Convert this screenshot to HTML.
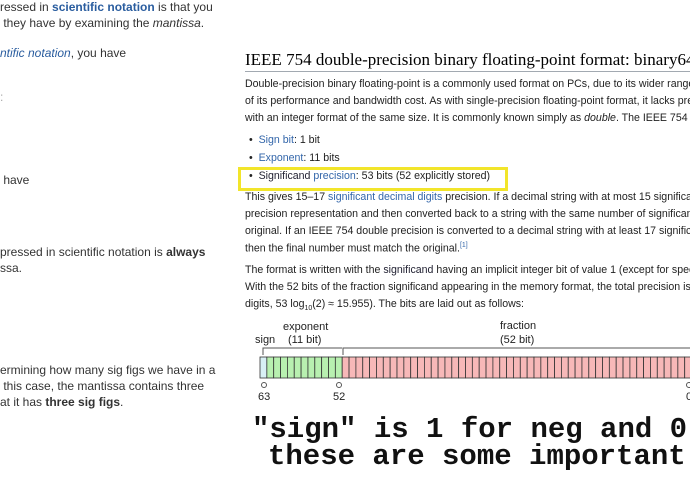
<!DOCTYPE html>
<html><head><meta charset="utf-8"><style>
html,body{margin:0;padding:0;background:#fff;width:690px;height:500px;overflow:hidden;position:relative}
#wrap{position:absolute;left:0;top:0;width:690px;height:500px;overflow:hidden}
.t{position:absolute;white-space:nowrap;font-family:"Liberation Sans",Arial,sans-serif}
.l{font-size:12px;color:#333}
.r{font-size:10.6px;color:#222}
a,.a{color:#2a5d9f;text-decoration:none}
.w{color:#3366aa}
</style></head><body><div id="wrap">
<div>
<div class="t l" style="left:0;top:0">ressed in <b class="a">scientific notation</b> is that you</div>
<div class="t l" style="left:0;top:16px">&nbsp;they have by examining the <i>mantissa</i>.</div>
<div class="t l" style="left:0;top:46px"><i class="a">ntific notation</i>, you have</div>
<div class="t l" style="left:0;top:90px;color:#aaa">:</div>
<div class="t l" style="left:0;top:173px">&nbsp;have</div>
<div class="t l" style="left:0;top:245px">pressed in scientific notation is <b>always</b></div>
<div class="t l" style="left:0;top:261px">ssa.</div>
<div class="t l" style="left:0;top:363px">ermining how many sig figs we have in a</div>
<div class="t l" style="left:0;top:379px">&nbsp;this case, the mantissa contains three</div>
<div class="t l" style="left:0;top:395px">at it has <b>three sig figs</b>.</div>
</div>
<div>
<div class="t" style="left:245px;top:50px;font-family:'Liberation Serif',serif;font-size:17px;color:#000">IEEE 754 double-precision binary floating-point format: binary64</div>
<div style="position:absolute;left:245px;top:71px;width:445px;height:1px;background:#a2a9b1"></div>
<div class="t r" style="left:245px;top:78px">Double-precision binary floating-point is a commonly used format on PCs, due to its wider range</div>
<div class="t r" style="left:245px;top:95px">of its performance and bandwidth cost. As with single-precision floating-point format, it lacks precision</div>
<div class="t r" style="left:245px;top:112px">with an integer format of the same size. It is commonly known simply as <i>double</i>. The IEEE 754 standard</div>
<div class="t r" style="left:249px;top:134px">•&nbsp;&nbsp;<span class="w">Sign bit</span>: 1 bit</div>
<div class="t r" style="left:249px;top:152px">•&nbsp;&nbsp;<span class="w">Exponent</span>: 11 bits</div>
<div class="t r" style="left:249px;top:170px">•&nbsp;&nbsp;<span style="color:#223">Significand</span> <span class="w">precision</span>: 53 bits (52 explicitly stored)</div>
<div style="position:absolute;left:238px;top:167px;width:264px;height:18px;border:3px solid #f2e52a"></div>
<div class="t r" style="left:245px;top:191px">This gives 15–17 <span class="w">significant decimal digits</span> precision. If a decimal string with at most 15 significant</div>
<div class="t r" style="left:245px;top:208px">precision representation and then converted back to a string with the same number of significant</div>
<div class="t r" style="left:245px;top:225px">original. If an IEEE 754 double precision is converted to a decimal string with at least 17 significant</div>
<div class="t r" style="left:245px;top:242px">then the final number must match the original.<sup style="font-size:7px;color:#3366aa">[1]</sup></div>
<div class="t r" style="left:245px;top:264px">The format is written with the <span style="color:#223">significand</span> having an implicit integer bit of value 1 (except for special</div>
<div class="t r" style="left:245px;top:281px">With the 52 bits of the fraction significand appearing in the memory format, the total precision is</div>
<div class="t r" style="left:245px;top:298px">digits, 53 log<sub style="font-size:7px">10</sub>(2) ≈ 15.955). The bits are laid out as follows:</div>
</div>
<svg id="diag" style="position:absolute;left:0;top:0" width="690" height="500">
<g font-family="Liberation Sans, sans-serif" font-size="11" fill="#222">
<text x="255" y="343">sign</text>
<text x="283" y="330">exponent</text>
<text x="288" y="343">(11 bit)</text>
<text x="500" y="329">fraction</text>
<text x="500" y="343">(52 bit)</text>
<text x="258" y="400">63</text>
<text x="333" y="400">52</text>
<text x="686" y="400">0</text>
</g>
<path d="M263,355 V348 H342 M343,355 V348 H690" stroke="#555" fill="none" stroke-width="1"/>
<g id="cells"></g>
<circle cx="264" cy="385" r="2.5" fill="none" stroke="#555"/>
<circle cx="339" cy="385" r="2.5" fill="none" stroke="#555"/>
<circle cx="689" cy="385" r="2.5" fill="none" stroke="#555"/>
</svg>
<div class="t" style="left:252px;top:413px;font-family:'Liberation Mono',monospace;font-weight:bold;font-size:29px;color:#111">"sign" is 1 for neg and 0 for pos</div>
<div class="t" style="left:268px;top:440px;font-family:'Liberation Mono',monospace;font-weight:bold;font-size:29px;color:#111">these are some important</div>
</div>
<script>
const fieldNames=['sign','exponent','fraction'];
const fieldBits=[1,11,52];
const fieldColors=['#d8f0f5','#b8f0b0','#f7b8b8'];
const g=document.getElementById('cells');
const x0=260, cw=6.85, y0=357, h=21;
let i=0;
fieldBits.forEach((n,f)=>{
  for(let k=0;k<n;k++){
    const r=document.createElementNS('http://www.w3.org/2000/svg','rect');
    
    
    r.setAttribute('x',x0+i*cw);r.setAttribute('y',y0);
    r.setAttribute('width',cw);r.setAttribute('height',h);
    r.setAttribute('fill',fieldColors[f]);r.setAttribute('stroke','#333');r.setAttribute('stroke-width','0.8');
    g.appendChild(r);i++;
  }
});
</script>
</body></html>
